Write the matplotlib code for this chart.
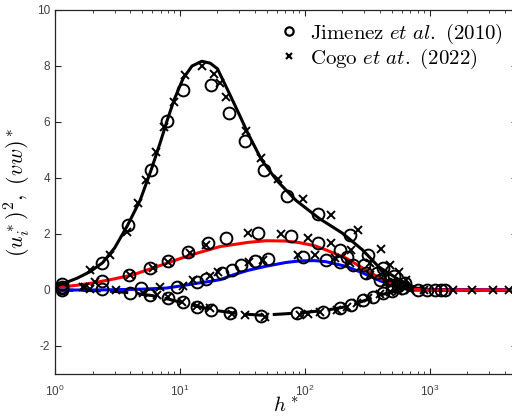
#!/usr/bin/env python3
"""
Reynolds stresses vs h* - model curves against Jimenez et al. (2010) and Cogo et al. (2022).
"""

import math

import matplotlib
matplotlib.use('Agg')
import matplotlib.pyplot as plt
from matplotlib.lines import Line2D
from matplotlib.ticker import FuncFormatter

# ── Config ──────────────────────────────────────────────────────────
plt.rcParams['font.family'] = ['Liberation Sans', 'DejaVu Sans']
plt.rcParams['mathtext.fontset'] = 'custom'
plt.rcParams['mathtext.rm'] = 'Liberation Sans'
plt.rcParams['mathtext.it'] = 'Liberation Sans:italic'
plt.rcParams['mathtext.default'] = 'it'
plt.rcParams['axes.unicode_minus'] = False

AX_COLOR = '#262626'

# ── Model curves ────────────────────────────────────────────────────
uu_x = [1, 1.2, 1.5, 1.9, 2.4, 3, 3.8, 4.8, 5.9, 7, 7.9, 9, 10.6, 12.5, 15, 17.5,
        20, 25, 30, 35, 45, 60, 85, 130, 200, 290, 390, 570, 780, 1000, 5000]
uu_y = [0.15, 0.25, 0.42, 0.65, 0.97, 1.5, 2.3, 3.2, 4.3, 5.3, 6.05, 6.8, 7.55, 8.0, 8.17, 8.1,
        7.9, 7.0, 6.25, 5.6, 4.65, 3.9, 3.2, 2.56, 2.03, 1.43, 0.83, 0.36, 0.07, 0.0, 0.0]

vv_x = [1, 1.2, 1.5, 2, 2.3, 3, 4.2, 5.5, 7.8, 10, 13.6, 20.9, 26.7, 35, 49, 70, 91,
        120, 148, 216, 294, 400, 550, 700, 880, 5000]
vv_y = [0.1, 0.12, 0.17, 0.25, 0.3, 0.4, 0.54, 0.72, 0.95, 1.12, 1.31, 1.55, 1.62, 1.7, 1.76, 1.75, 1.69,
        1.58, 1.43, 1.13, 0.77, 0.42, 0.15, 0.04, 0.0, 0.0]

ww_x = [1, 2, 3, 5, 7.8, 10, 13.6, 17, 21, 26.7, 35, 49, 70, 91, 120, 148, 216, 294,
        400, 550, 800, 5000]
ww_y = [0.0, 0.0, 0.01, 0.03, 0.07, 0.14, 0.24, 0.3, 0.37, 0.54, 0.7, 0.85, 0.98, 1.04, 1.05, 1.01, 0.84, 0.6,
        0.33, 0.12, 0.01, 0.0]

vw_x = [1, 2, 3, 4, 6, 8, 10, 15, 20, 30, 45, 70, 100, 150, 200, 250, 300, 400, 500, 600, 800, 5000]
vw_y = [0, -0.02, -0.05, -0.1, -0.2, -0.32, -0.43, -0.62, -0.74, -0.85, -0.9, -0.85, -0.8, -0.72,
        -0.62, -0.5, -0.38, -0.18, -0.07, -0.02, 0, 0]

# ── Jimenez et al. (2010), circles ──────────────────────────────────
jim_uu_x = [1.13, 2.38, 3.84, 5.9, 7.9, 10.6, 17.7, 24.5, 33, 47, 72, 128, 228, 320, 420, 520, 640]
jim_uu_y = [0.2, 0.96, 2.32, 4.29, 6.05, 7.14, 7.32, 6.33, 5.33, 4.29, 3.37, 2.7, 1.96, 1.25, 0.8, 0.5, 0.25]
jim_vv_x = [1.13, 2.36, 3.93, 5.77, 8.1, 11.7, 16.8, 23.6, 42, 78, 128, 190, 216, 300, 380, 470, 560]
jim_vv_y = [0.1, 0.33, 0.54, 0.77, 1.05, 1.37, 1.67, 1.85, 2.02, 1.93, 1.67, 1.43, 1.19, 0.9, 0.6, 0.35, 0.15]
jim_ww_x = [1.13, 2.36, 4.9, 9.4, 13.6, 16.3, 21.6, 26, 31, 39.8, 51, 96, 148, 190, 243, 310, 400, 500, 600]
jim_ww_y = [0.06, 0.03, 0.06, 0.12, 0.3, 0.4, 0.6, 0.71, 0.89, 1.04, 1.1, 1.19, 1.07, 1.01, 0.89, 0.6, 0.35,
            0.18, 0.08]
jim_vw_x = [1.13, 4.0, 5.8, 8.1, 10.6, 13.6, 17.9, 25, 45, 86, 140, 190, 235, 294, 350, 420, 500]
jim_vw_y = [0.0, -0.1, -0.18, -0.3, -0.42, -0.6, -0.71, -0.83, -0.93, -0.83, -0.77, -0.65, -0.54, -0.36,
            -0.25, -0.12, -0.05]
jim_tail_x = [800, 960, 1100, 1240, 1320]

# ── Cogo et al. (2022), crosses ─────────────────────────────────────
cogo_uu_x = [1.9, 2.75, 3.75, 4.6, 5.4, 6.4, 7.4, 8.9, 10.9, 14.9, 18.7, 20.9, 23.6, 34, 44.6, 61, 96,
             161, 265, 410, 480, 570, 650]
cogo_uu_y = [0.71, 1.25, 2.08, 3.1, 3.93, 4.94, 5.81, 6.73, 7.68, 8.01, 7.71, 7.38, 6.9, 5.69, 4.7, 3.95,
             3.24, 2.68, 2.14, 1.46, 0.9, 0.65, 0.35]
cogo_vv_x = [1.74, 2.1, 4.0, 6.1, 8.1, 12, 16.3, 35, 65, 106, 163, 236, 330, 420, 520, 620]
cogo_vv_y = [0.1, 0.3, 0.54, 0.77, 1.0, 1.31, 1.61, 2.02, 1.99, 1.85, 1.67, 1.43, 0.95, 0.6, 0.3, 0.12]
cogo_ww_x = [1.69, 1.9, 3.1, 6.9, 10.6, 12.8, 17.4, 20.2, 36, 46, 88, 120, 173, 230, 330, 450, 560]
cogo_ww_y = [0.1, 0.02, 0.0, 0.1, 0.14, 0.36, 0.5, 0.65, 1.01, 1.07, 1.25, 1.25, 1.13, 0.95, 0.55, 0.3, 0.12]
cogo_vw_x = [5.1, 6.5, 8.1, 10.3, 13.6, 17.4, 26, 33, 48, 91, 106, 132, 180, 216, 260, 320, 400, 480, 560]
cogo_vw_y = [-0.1, -0.18, -0.24, -0.42, -0.57, -0.65, -0.87, -0.89, -0.95, -0.89, -0.87, -0.77, -0.71,
             -0.6, -0.48, -0.3, -0.15, -0.07, -0.02]
cogo_tail_x = [700, 900, 1530, 2200, 3200, 4350]

LEGEND_LABELS = [r'$\mathrm{Jimenez}\ et\ al.\ \mathrm{(2010)}$',
                 r'$\mathrm{Cogo}\ et\ at.\ \mathrm{(2022)}$']


def log_label(val, pos):
    return r'$\mathrm{10^{%d}}$' % round(math.log10(val))


def main():
    fig = plt.figure(figsize=(5.12, 4.17), dpi=100)
    ax = fig.add_axes([55 / 512, 1 - 374 / 417, (517 - 55) / 512, 364 / 417])

    # model curves (black first, red on top)
    ax.plot(uu_x, uu_y, color='black', lw=2.2, zorder=2)
    ax.plot(vw_x, vw_y, color='black', lw=2.2, ls=(0, (6, 3)), zorder=2)
    ax.plot(ww_x, ww_y, color='blue', lw=2.2, zorder=2)
    ax.plot(vv_x, vv_y, color='red', lw=2.2, zorder=2)

    circ = dict(ls='none', marker='o', ms=8.5, mfc='none', mec='black', mew=1.4, zorder=3)
    cross = dict(ls='none', marker='x', ms=6, mec='black', mew=1.4, zorder=3)
    for x, y in [(jim_uu_x, jim_uu_y), (jim_vv_x, jim_vv_y), (jim_ww_x, jim_ww_y), (jim_vw_x, jim_vw_y)]:
        ax.plot(x, y, **circ)
    ax.plot(jim_tail_x, [0] * len(jim_tail_x), **circ)
    for x, y in [(cogo_uu_x, cogo_uu_y), (cogo_vv_x, cogo_vv_y), (cogo_ww_x, cogo_ww_y), (cogo_vw_x, cogo_vw_y)]:
        ax.plot(x, y, **cross)
    ax.plot(cogo_tail_x, [0] * len(cogo_tail_x), **cross)

    ax.set_xscale('log')
    ax.set_xlim(1, 5000)
    ax.set_ylim(-3, 10)
    ax.set_yticks([-2, 0, 2, 4, 6, 8, 10])
    ax.xaxis.set_major_formatter(FuncFormatter(log_label))

    for side in ['left', 'bottom', 'top', 'right']:
        ax.spines[side].set_color(AX_COLOR)
        ax.spines[side].set_linewidth(0.9)
    ax.tick_params(which='both', direction='in', top=True, right=True, colors=AX_COLOR,
                   labelsize=8.5, labelcolor='#404040')
    ax.tick_params(which='major', length=4.5)
    ax.tick_params(which='minor', length=2.5)
    ax.tick_params(axis='x', pad=7)

    xl = ax.set_xlabel(r'$h^*$', fontsize=15, labelpad=-2)
    xl.set_math_fontfamily('cm')
    yl = ax.set_ylabel(r'$(u_i^*)^2,\ (vw)^*$', fontsize=16, labelpad=3)
    yl.set_math_fontfamily('cm')

    handles = [Line2D([], [], ls='none', marker='o', ms=6, mfc='none', mec='black', mew=1.6),
               Line2D([], [], ls='none', marker='x', ms=4.5, mec='black', mew=1.6)]
    ax.legend(handles, LEGEND_LABELS, loc='upper right', frameon=False,
              prop={'size': 15, 'math_fontfamily': 'cm'}, handlelength=1.0, handletextpad=0.5,
              borderaxespad=0.15, bbox_to_anchor=((514 - 55) / (517 - 55), 1.0),
              labelspacing=0.05)

    fig.savefig('out.png', dpi=100)
    plt.close(fig)


if __name__ == '__main__':
    main()
